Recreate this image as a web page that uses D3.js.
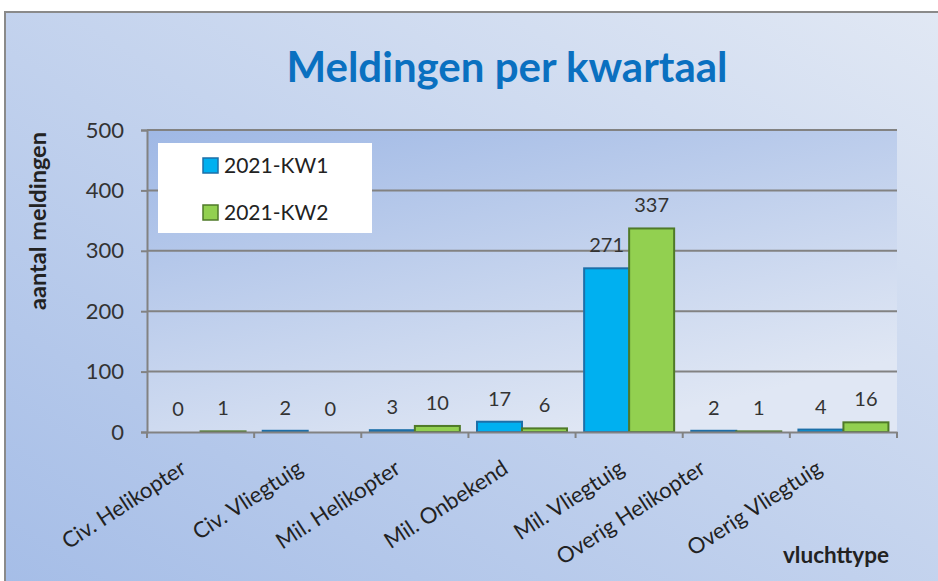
<!DOCTYPE html>
<html>
<head>
<meta charset="utf-8">
<script src="https://cdn.jsdelivr.net/npm/d3@7"></script>
<style>
  body { margin: 0; background: #fff; }
  text { font-family: Lato, "Open Sans", sans-serif; }
</style>
</head>
<body>
<script>
// chart data
var categories = ["Civ. Helikopter", "Civ. Vliegtuig", "Mil. Helikopter", "Mil. Onbekend",
                  "Mil. Vliegtuig", "Overig Helikopter", "Overig Vliegtuig"];
var seriesNames = ["2021-KW1", "2021-KW2"];
var kw1 = [0, 2, 3, 17, 271, 2, 4];
var kw2 = [1, 0, 10, 6, 337, 1, 16];
var yTicks = [0, 100, 200, 300, 400, 500];

var W = 938, H = 581;
var margin = {top: 130, right: 41, bottom: 149, left: 147};
var width = W - margin.left - margin.right;
var height = H - margin.top - margin.bottom;

var svg = d3.select("body").append("svg")
    .attr("width", W)
    .attr("height", H);

var defs = svg.append("defs");
var bgGrad = defs.append("linearGradient").attr("id", "bg")
    .attr("x1", "0%").attr("y1", "100%").attr("x2", "100%").attr("y2", "0%");
bgGrad.append("stop").attr("offset", "0%").attr("stop-color", "#a5bde7");
bgGrad.append("stop").attr("offset", "100%").attr("stop-color", "#e1e8f4");

var plotGrad = defs.append("linearGradient").attr("id", "plotbg")
    .attr("x1", "0%").attr("y1", "0%").attr("x2", "60%").attr("y2", "100%");
plotGrad.append("stop").attr("offset", "0%").attr("stop-color", "#9fb8e5");
plotGrad.append("stop").attr("offset", "100%").attr("stop-color", "#e0e7f4");

// outer chart area
svg.append("rect")
    .attr("x", 5).attr("y", 12)
    .attr("width", W).attr("height", H)
    .attr("fill", "url(#bg)")
    .attr("stroke", "#8a8a8a")
    .attr("stroke-width", 2);

svg.append("text")
    .attr("x", 507).attr("y", 82)
    .attr("text-anchor", "middle")
    .attr("font-size", "42px")
    .attr("font-weight", "bold")
    .attr("fill", "#0a70c0")
    .text("Meldingen per kwartaal");

var g = svg.append("g")
    .attr("transform", "translate(" + margin.left + "," + margin.top + ")");

g.append("rect")
    .attr("width", width).attr("height", height)
    .attr("fill", "url(#plotbg)");

var x0 = d3.scaleBand().domain(categories).range([0, width]).paddingInner(0.16).paddingOuter(0.08);
var x1 = d3.scaleBand().domain(seriesNames).range([0, x0.bandwidth()]);
var y = d3.scaleLinear().domain([0, 500]).range([height, 0]);
var color = d3.scaleOrdinal().domain(seriesNames).range(["#00b0f0", "#92d050"]);
var stroke = d3.scaleOrdinal().domain(seriesNames).range(["#1d6fa8", "#4f7a28"]);

// gridlines
g.selectAll(".grid").data(yTicks.slice(1)).enter().append("line")
    .attr("x1", 0).attr("x2", width)
    .attr("y1", function(d) { return y(d); })
    .attr("y2", function(d) { return y(d); })
    .attr("stroke", "#828282")
    .attr("stroke-width", 2);

var yAxis = g.append("g")
    .call(d3.axisLeft(y).tickValues(yTicks).tickSize(6).tickPadding(17));
yAxis.select(".domain").attr("stroke", "#828282").attr("stroke-width", 2);
yAxis.selectAll(".tick line").attr("stroke", "#828282").attr("stroke-width", 2);
yAxis.selectAll("text")
    .attr("font-size", "22px")
    .attr("fill", "#333")
    .style("font-family", "Lato, sans-serif");

// bars
var rows = categories.map(function(c, i) {
    return {cat: c, vals: [{s: seriesNames[0], v: kw1[i]}, {s: seriesNames[1], v: kw2[i]}]};
});

var groups = g.selectAll(".grp").data(rows).enter().append("g")
    .attr("transform", function(d) { return "translate(" + x0(d.cat) + ",0)"; });

groups.selectAll("rect").data(function(d) { return d.vals; }).enter().append("rect")
    .attr("x", function(d) { return x1(d.s); })
    .attr("y", function(d) { return y(d.v); })
    .attr("width", x1.bandwidth())
    .attr("height", function(d) { return height - y(d.v); })
    .attr("fill", function(d) { return color(d.s); })
    .attr("stroke", function(d) { return stroke(d.s); })
    .attr("stroke-width", 2);

groups.selectAll(".lbl").data(function(d) { return d.vals; }).enter().append("text")
    .attr("x", function(d) { return x1(d.s) + x1.bandwidth() / 2; })
    .attr("y", function(d) { return y(d.v) - 16; })
    .attr("text-anchor", "middle")
    .attr("font-size", "20px")
    .attr("fill", "#333")
    .text(function(d) { return d.v; });

// x axis
var xAxis = g.append("g")
    .attr("transform", "translate(0," + height + ")")
    .call(d3.axisBottom(x0).tickSize(0).tickPadding(0));
xAxis.select(".domain").attr("stroke", "#828282").attr("stroke-width", 2);
xAxis.selectAll("text")
    .attr("font-size", "22px")
    .attr("fill", "#222")
    .style("font-family", "Lato, sans-serif")
    .attr("text-anchor", "end")
    .attr("x", 0)
    .attr("y", 0)
    .attr("dy", null)
    .each(function() {
        // longer labels sit further left, like the original
        var len = this.getComputedTextLength();
        var dx = -17 - 0.57 * (len - 150);
        d3.select(this).attr("transform", "translate(" + dx + ",40) rotate(-33)");
    });

var bounds = [0].concat(categories.map(function(c) { return x0(c) + x0.bandwidth() + x0.step() * x0.paddingInner() / 2; }));
g.selectAll(".xtick").data(bounds).enter().append("line")
    .attr("x1", function(d) { return d; }).attr("x2", function(d) { return d; })
    .attr("y1", height).attr("y2", height + 6)
    .attr("stroke", "#828282").attr("stroke-width", 2);

// axis titles
svg.append("text")
    .attr("transform", "translate(46,221) rotate(-90)")
    .attr("text-anchor", "middle")
    .attr("font-size", "23.5px")
    .attr("font-weight", "bold")
    .attr("fill", "#222")
    .text("aantal meldingen");

svg.append("text")
    .attr("x", 889).attr("y", 563)
    .attr("text-anchor", "end")
    .attr("font-size", "22.5px")
    .attr("font-weight", "bold")
    .attr("fill", "#222")
    .text("vluchttype");

// legend
var legend = svg.append("g").attr("transform", "translate(158,143)");
legend.append("rect").attr("width", 214).attr("height", 90).attr("fill", "#fff");
var items = legend.selectAll(".item").data(seriesNames).enter().append("g")
    .attr("transform", function(d, i) { return "translate(45," + (15 + i * 47) + ")"; });
items.append("rect")
    .attr("width", 15).attr("height", 15)
    .attr("fill", function(d) { return color(d); })
    .attr("stroke", function(d) { return stroke(d); })
    .attr("stroke-width", 1.5);
items.append("text")
    .attr("x", 21).attr("y", 15)
    .attr("font-size", "21px")
    .attr("fill", "#222")
    .text(function(d) { return d; });
</script>
</body>
</html>
